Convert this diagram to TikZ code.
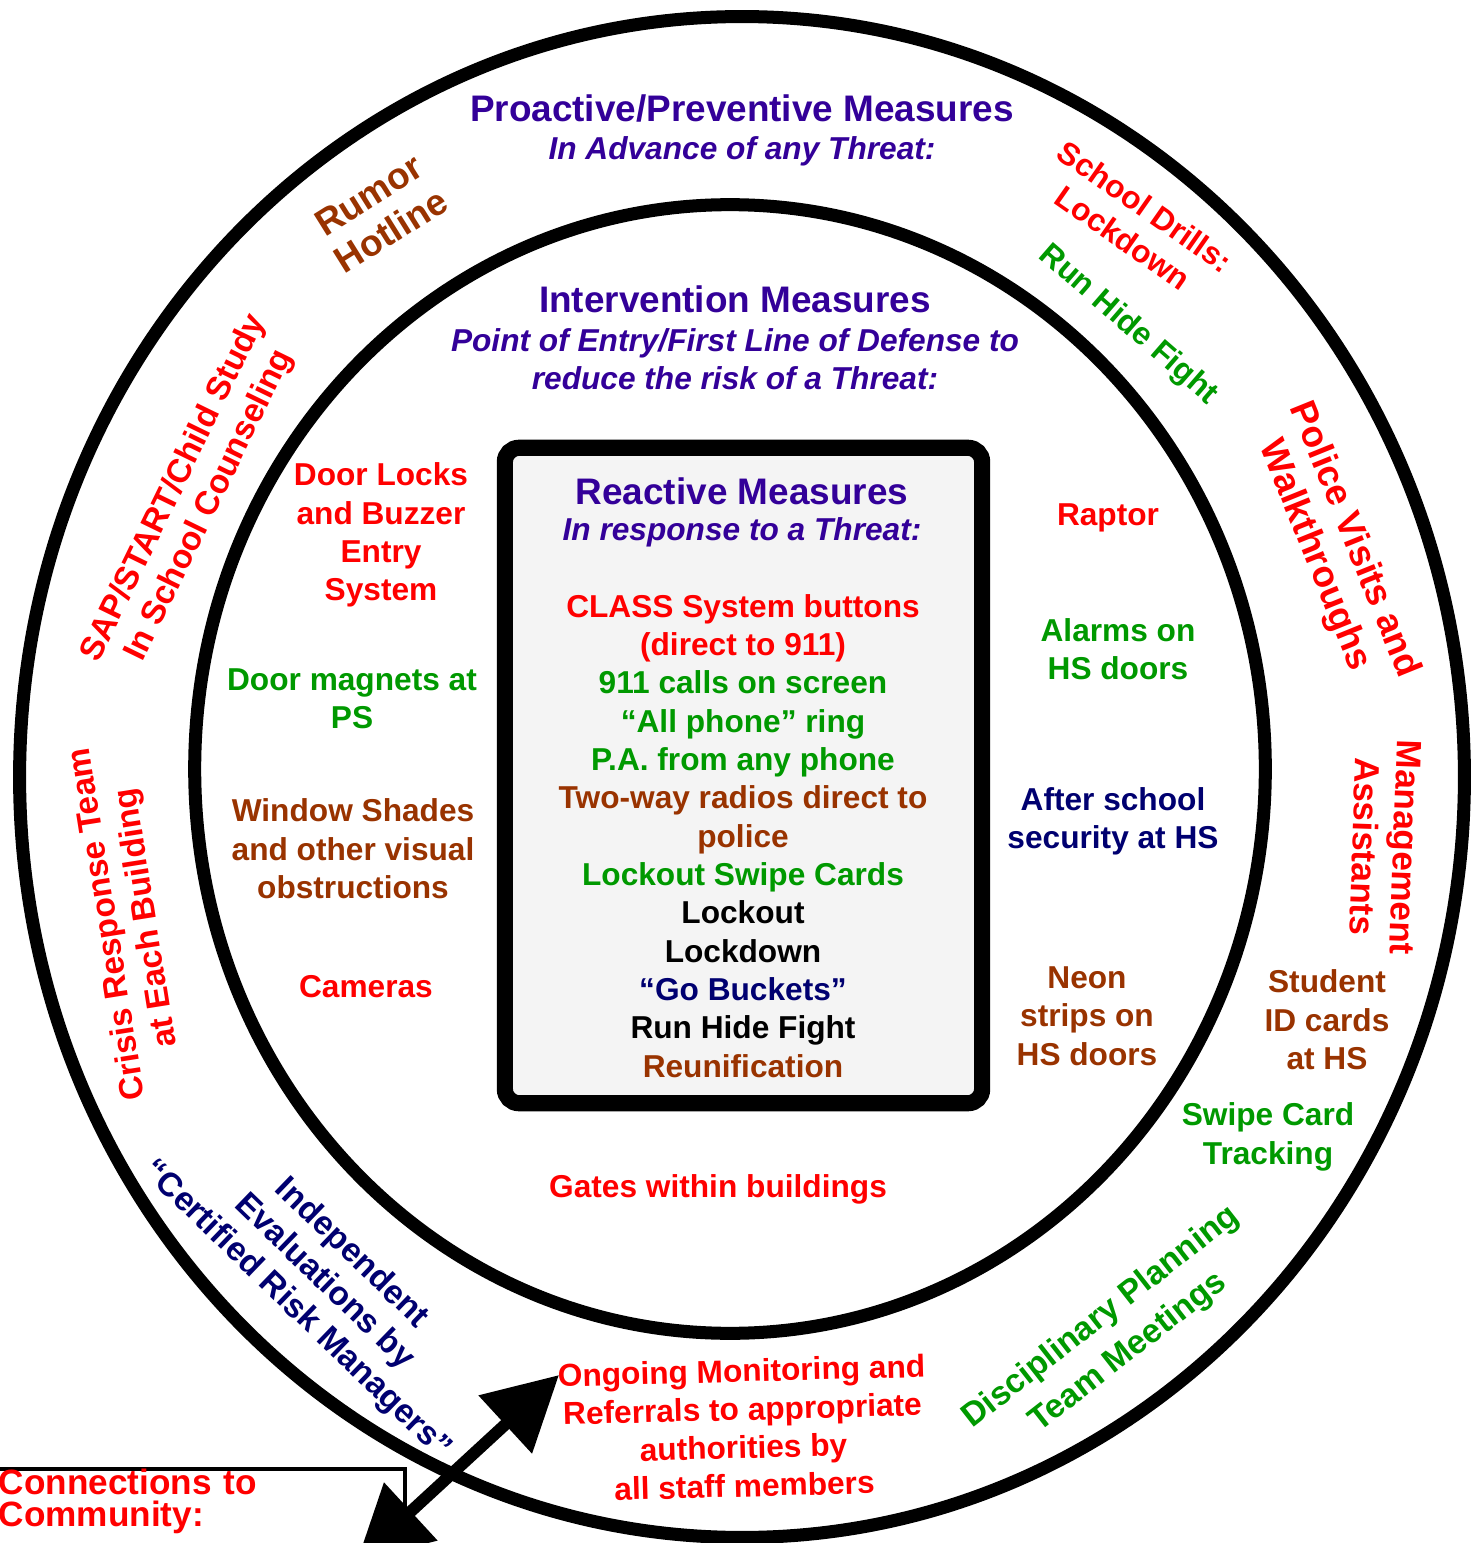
\documentclass[tikz,border=0pt]{standalone}
\usepackage{fontspec}
\setmainfont{Liberation Sans}
\usetikzlibrary{arrows.meta}
\definecolor{hdrpurple}{HTML}{330099}
\definecolor{tred}{HTML}{FF0000}
\definecolor{tgreen}{HTML}{009900}
\definecolor{tbrown}{HTML}{993300}
\definecolor{tnavy}{HTML}{000070}
\definecolor{boxgray}{HTML}{F4F4F4}
\tikzset{
  ring/.style     = {line width=3.7pt},
  reactbox/.style = {draw, line width=4.6pt, rounded corners=4pt, fill=boxgray,
                     minimum width=4.77cm, minimum height=6.55cm},
  hdr/.style      = {font=\fontsize{10.5}{12.2}\selectfont\bfseries, text=hdrpurple,
                     align=center, inner sep=0pt},
  subhdr/.style   = {font=\fontsize{9}{10.9}\selectfont\bfseries\itshape, text=hdrpurple,
                     align=center, inner sep=0pt},
  item/.style     = {font=\fontsize{9}{10.9}\selectfont\bfseries, align=center, inner sep=0pt},
  f95/.style      = {font=\fontsize{9.5}{11.2}\selectfont\bfseries},
  f10/.style      = {font=\fontsize{10}{11.6}\selectfont\bfseries},
  f105/.style     = {font=\fontsize{10.5}{12}\selectfont\bfseries},
  commbox/.style  = {draw, line width=1pt, anchor=north west, inner xsep=2pt, inner ysep=0pt,
                     text width=3.99cm, align=left, text depth=1.2cm, text=tred,
                     font=\fontsize{10}{9.1}\selectfont\bfseries},
  link/.style     = {line width=3.4pt,
                     {Triangle[length=20.8pt,width=21.6pt]}-{Triangle[length=20.8pt,width=21.6pt]}},
}
\begin{document}
\begin{tikzpicture}[x=0.01cm, y=-0.01cm]
  \useasboundingbox (0,0) rectangle (1475,1543);
  \clip (0,0) rectangle (1475,1543);
  \fill[white] (0,0) rectangle (1475,1543);

  % rings
  \draw[ring] (742,777) ellipse [x radius=7.22cm, y radius=7.6cm];
  \draw[ring] (730,769) ellipse [x radius=5.35cm, y radius=5.64cm];
  \node[reactbox] (react) at (743.5,775.5) {};

  % headings
  \node[hdr]    (proact)    at (742,109) {Proactive/Preventive Measures};
  \node[subhdr] (proactsub) at (742,151) {In Advance of any Threat:};
  \node[hdr]    (interv)    at (735,299) {Intervention Measures};
  \node[subhdr] (intervsub) at (735,359) {Point of Entry/First Line of Defense to\\reduce the risk of a Threat:};
  \node[hdr]    (reacthdr)  at (742,491) {Reactive Measures};
  \node[subhdr] (reactsub)  at (742,532) {In response to a Threat:};

  % centre box
  \node[item] (reactlist) at (743,836) {\textcolor{tred}{CLASS System buttons}\\
    \textcolor{tred}{(direct to 911)}\\
    \textcolor{tgreen}{911 calls on screen}\\
    \textcolor{tgreen}{“All phone” ring}\\
    \textcolor{tgreen}{P.A. from any phone}\\
    \textcolor{tbrown}{Two-way radios direct to}\\
    \textcolor{tbrown}{police}\\
    \textcolor{tgreen}{Lockout Swipe Cards}\\
    Lockout\\
    Lockdown\\
    \textcolor{tnavy}{“Go Buckets”}\\
    Run Hide Fight\\
    \textcolor{tbrown}{Reunification}};

  % inner ring
  \node[item, text=tred]   (doorlocks)   at (381,535)  {Door Locks\\and Buzzer\\Entry\\System};
  \node[item, text=tgreen] (magnets)     at (352,699)  {Door magnets at\\PS};
  \node[item, text=tbrown] (shades)      at (353,849)  {Window Shades\\and other visual\\obstructions};
  \node[item, text=tred]   (cameras)     at (366,987)  {Cameras};
  \node[item, text=tred]   (raptor)      at (1108,518) {Raptor};
  \node[item, text=tgreen] (alarms)      at (1118,649) {Alarms on\\HS doors};
  \node[item, text=tnavy]  (afterschool) at (1113,821) {After school\\security at HS};
  \node[item, text=tbrown] (neon)        at (1087,1016) {Neon\\strips on\\HS doors};
  \node[item, text=tred]   (gates)       at (718,1189) {Gates within buildings};

  % outer ring
  \node[item, f105, text=tbrown, rotate=32]  (rumor)   at (380,213)  {Rumor\\Hotline};
  \node[item, f95, text=tred, rotate=64]     (sap)     at (192,497)  {SAP/START/Child Study\\In School Counseling};
  \node[item, f95, text=tred, rotate=99]     (crisis)  at (128,921)  {Crisis Response Team\\at Each Building};
  \node[item, text=tred, rotate=-35]         (drills)  at (1134,222) {School Drills:\\Lockdown};
  \node[item, text=tgreen, rotate=-41]       (runhide) at (1128,325) {Run Hide Fight};
  \node[item, f105, text=tred, rotate=-68]   (police)  at (1334,548) {Police Visits and\\Walkthroughs};
  \node[item, f10, text=tred, rotate=-92]    (mgmt)    at (1385,847) {Management\\Assistants};
  \node[item, text=tbrown]                   (studentid) at (1327,1020) {Student\\ID cards\\at HS};
  \node[item, text=tgreen]                   (swipe)   at (1268,1137) {Swipe Card\\Tracking};
  \node[item, f95, text=tnavy, rotate=-44]   (independent) at (324,1282) {Independent\\Evaluations by\\“Certified Risk Managers”};
  \node[item, text=tgreen, rotate=38,
        font=\fontsize{9.5}{12.6}\selectfont\bfseries] (disciplinary) at (1115,1335) {Disciplinary Planning\\Team Meetings};
  \node[item, text=tred, rotate=1.5]         (ongoing) at (743,1428) {Ongoing Monitoring and\\Referrals to appropriate\\authorities by\\all staff members};

  % community
  \node[commbox] (community) at (-10,1467) {Connections to\\Community:};
  \coordinate (tiplo) at (357,1561);
  \coordinate (tiphi) at (559,1375);
  \draw[link] (tiplo) -- (tiphi);
\end{tikzpicture}
\end{document}
